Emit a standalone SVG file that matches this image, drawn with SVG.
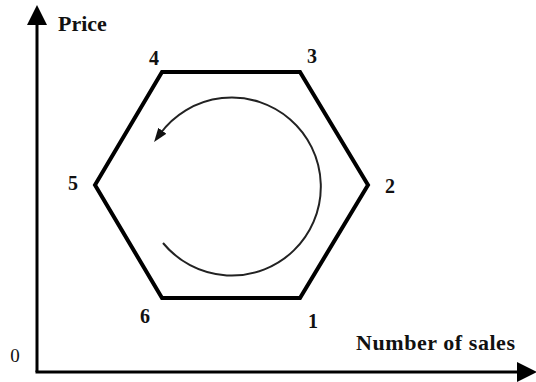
<svg xmlns="http://www.w3.org/2000/svg" width="536" height="382" viewBox="0 0 536 382">
  <style>
    .axis { stroke: #000; stroke-width: 3; fill: none; }
    .hex { stroke: #000; stroke-width: 4; fill: none; stroke-linejoin: miter; }
    .cycle { stroke: #222; stroke-width: 2; fill: none; }
    .lbl { font-family: "Liberation Serif", "Times New Roman", serif; font-weight: bold; font-size: 22px; fill: #111; }
    .num { font-family: "Liberation Serif", "Times New Roman", serif; font-weight: bold; font-size: 20px; fill: #111; text-anchor: middle; }
    .zero { font-family: "Liberation Serif", "Times New Roman", serif; font-size: 19px; fill: #111; text-anchor: middle; }
  </style>
  <defs>
    <marker id="bigArrow" viewBox="0 0 20 20" refX="0" refY="10" markerWidth="20" markerHeight="20" markerUnits="userSpaceOnUse" orient="auto">
      <path d="M0,0 L20,10 L0,20 z" fill="#000"/>
    </marker>
    <marker id="smallArrow" viewBox="0 0 14 10" refX="4" refY="5" markerWidth="14" markerHeight="10" markerUnits="userSpaceOnUse" orient="auto">
      <path d="M0,0 L14,5 L0,10 z" fill="#111"/>
    </marker>
  </defs>
  <rect width="536" height="382" fill="#fff"/>

  <g id="connectors">
    <path class="axis" d="M37,372 L37,25" marker-end="url(#bigArrow)"/>
    <path class="axis" d="M35.5,372 L517,372" marker-end="url(#bigArrow)"/>
    <path class="cycle" d="M163,243 A89,89 0 1 0 160,134" marker-end="url(#smallArrow)"/>
  </g>

  <g id="hexagon">
    <polygon class="hex" points="162,72 300,72 368,185 300,298 162,298 95,185"/>
  </g>

  <g id="axis-labels">
    <text class="lbl" x="58" y="31">Price</text>
    <text class="lbl" x="356" y="350" textLength="159" lengthAdjust="spacing">Number of sales</text>
    <text class="zero" x="15" y="362">0</text>
  </g>

  <g id="node-1"><text class="num" x="313" y="328">1</text></g>
  <g id="node-2"><text class="num" x="390" y="193">2</text></g>
  <g id="node-3"><text class="num" x="312" y="63">3</text></g>
  <g id="node-4"><text class="num" x="154" y="65">4</text></g>
  <g id="node-5"><text class="num" x="73" y="190">5</text></g>
  <g id="node-6"><text class="num" x="145" y="323">6</text></g>
</svg>
